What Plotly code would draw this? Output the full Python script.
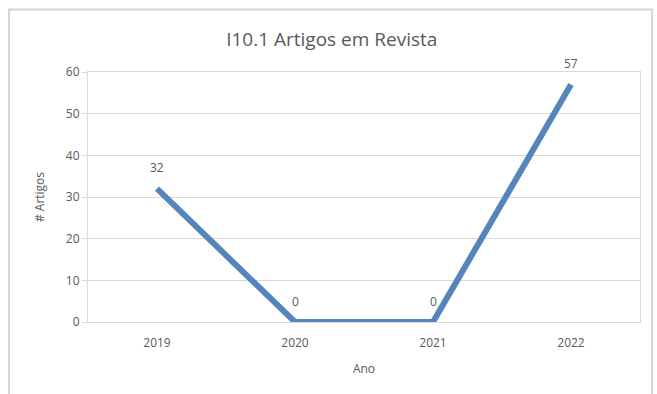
import plotly.graph_objects as go

anos = ["2019", "2020", "2021", "2022"]
artigos = [32, 0, 0, 57]
y_ticks = [0, 10, 20, 30, 40, 50, 60]

cinza = "#595959"
fonte = "Open Sans"

fig = go.Figure()
fig.add_trace(go.Scatter(
    x=anos, y=artigos,
    mode="lines",
    line=dict(color="#5585BA", width=6),
    hoverinfo="skip",
))

# value labels above each point (category index on the x axis)
for i, v in enumerate(artigos):
    fig.add_annotation(x=i, y=v, xref="x", yref="y", text=str(v), showarrow=False,
                       yshift=21, font=dict(family=fonte, size=12, color=cinza))

fig.update_layout(
    width=657, height=394,
    margin=dict(l=88, r=17, t=72, b=72, autoexpand=False),
    paper_bgcolor="white", plot_bgcolor="white",
    showlegend=False,
    title=dict(text="I10.1 Artigos em Revista", x=0.505, xanchor="center",
               y=0.9, yanchor="middle",
               font=dict(family=fonte, size=19, color=cinza)),
    xaxis=dict(
        type="category", range=[-0.5, 3.5],
        showgrid=False, showline=True, linecolor="#D9D9D9", linewidth=1,
        mirror=True, ticks="", ticklabelstandoff=10,
        tickfont=dict(family=fonte, size=12, color=cinza),
        title=dict(text="Ano", standoff=14, font=dict(family=fonte, size=12, color=cinza)),
    ),
    yaxis=dict(
        range=[0, 60], tickvals=y_ticks,
        showgrid=True, gridcolor="#D9D9D9", gridwidth=1,
        showline=True, linecolor="#D9D9D9", mirror=True,
        zeroline=False, ticks="outside", ticklen=5, tickcolor="#D9D9D9",
        tickfont=dict(family=fonte, size=12, color=cinza),
        title=dict(text="# Artigos", standoff=18, font=dict(family=fonte, size=12, color=cinza)),
    ),
    shapes=[dict(type="rect", xref="paper", yref="paper",
                 x0=-0.143, x1=1.022, y0=-0.5, y1=1.25,
                 line=dict(color="#D4D4D4", width=2), layer="below")],
)

fig.write_html("out.html")
